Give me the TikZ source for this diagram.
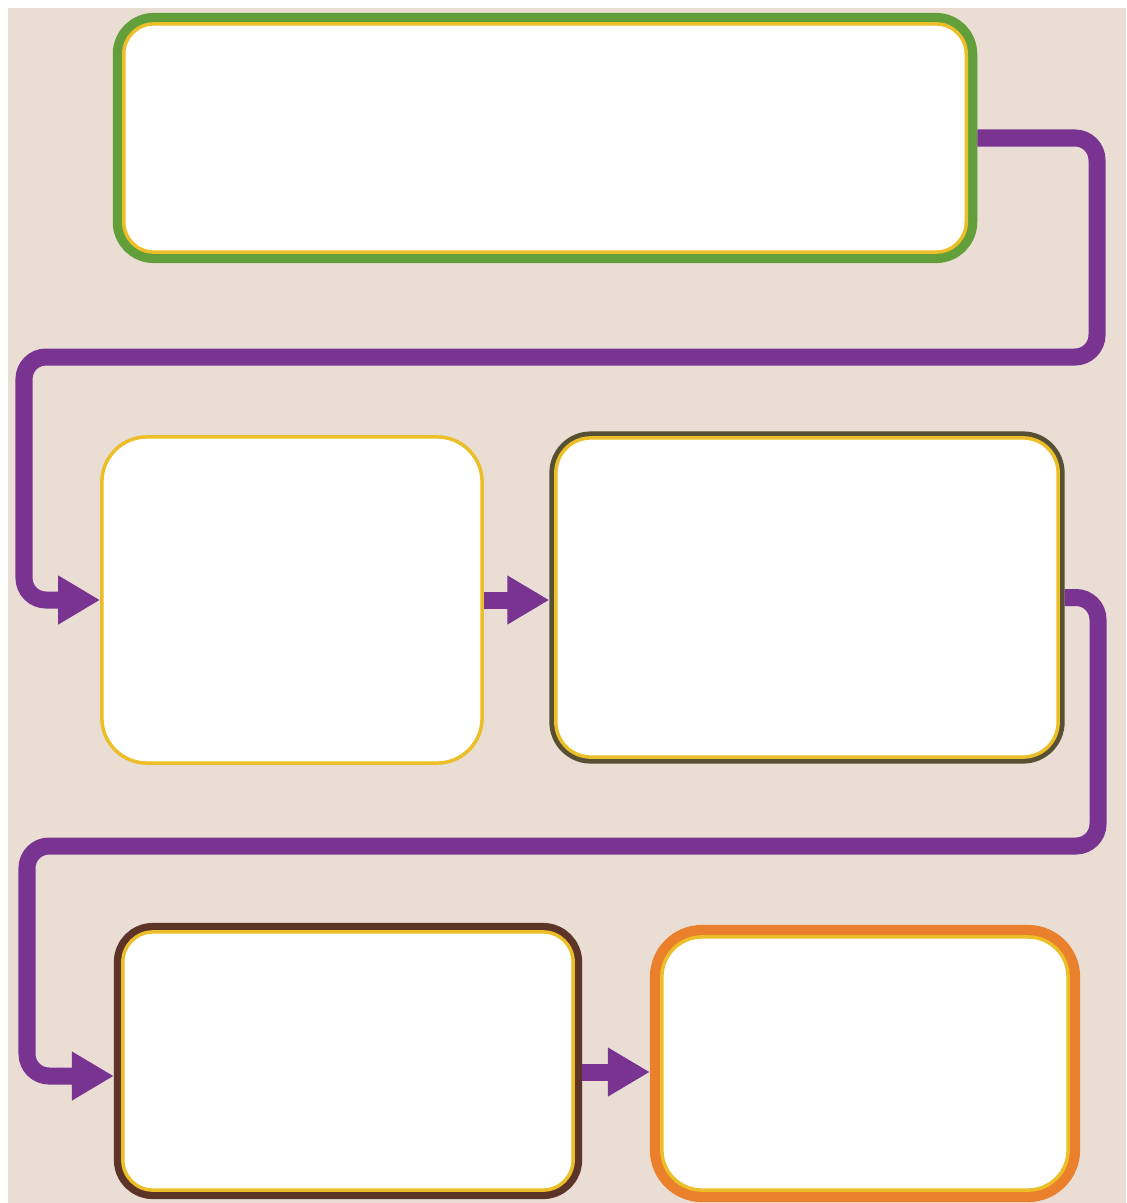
\documentclass[tikz,border=0pt]{standalone}
\usetikzlibrary{arrows.meta}
\definecolor{paper}{RGB}{233,221,212}
\definecolor{flowpurple}{RGB}{121,52,146}
\definecolor{leafgreen}{RGB}{98,158,58}
\definecolor{rimyellow}{RGB}{236,190,40}
\definecolor{darkolive}{RGB}{88,80,52}
\definecolor{darkbrown}{RGB}{92,52,40}
\definecolor{rimorange}{RGB}{234,128,44}
\begin{document}
\begin{tikzpicture}[x=0.01cm,y=-0.01cm,
  card/.style={rectangle,fill=white,inner sep=0pt,draw=rimyellow,line width=0.035cm},
  ringed/.style 2 args={card,preaction={draw=#1,line width=#2}},
  flow/.style={draw=flowpurple,line width=0.17cm,rounded corners=0.22cm,
    -{Triangle[length=0.42cm,width=0.46cm]}}]
\useasboundingbox (0,0) rectangle (1126,1203);
\fill[white] (0,0) rectangle (1126,1203);
\fill[paper] (8,8) rectangle (1126,1203);
\node[ringed={leafgreen}{0.22cm},outer sep=0.11cm,rounded corners=0.3cm,
  minimum width=8.42cm,minimum height=2.28cm] (b1) at (545,138) {};
\node[card,rounded corners=0.45cm,
  minimum width=3.80cm,minimum height=3.26cm] (b2) at (292,600) {};
\node[ringed={darkolive}{0.13cm},outer sep=0.065cm,rounded corners=0.35cm,
  minimum width=5.02cm,minimum height=3.19cm] (b3) at (807,597.5) {};
\node[ringed={darkbrown}{0.18cm},outer sep=0.09cm,rounded corners=0.3cm,
  minimum width=4.50cm,minimum height=2.58cm] (b4) at (348,1061) {};
\node[ringed={rimorange}{0.24cm},outer sep=0.12cm,rounded corners=0.4cm,
  minimum width=4.06cm,minimum height=2.53cm] (b5) at (865,1063.5) {};
\coordinate (t1) at (1097,357);
\coordinate (t2) at (24,600);
\coordinate (t3) at (1098,846);
\coordinate (t4) at (27,1076);
\coordinate (t5) at (612,1072);
\draw[flow] (b1.east) -| (t1) -| (t2) -- (b2.west);
\draw[flow] (b2.east) -- (b3.west |- b2.east);
\draw[flow] (b3.east) -| (t3) -| (t4) -- (b4.west |- t4);
\draw[flow] (b4.east |- t5) -- (b5.west |- t5);
\end{tikzpicture}
\end{document}
